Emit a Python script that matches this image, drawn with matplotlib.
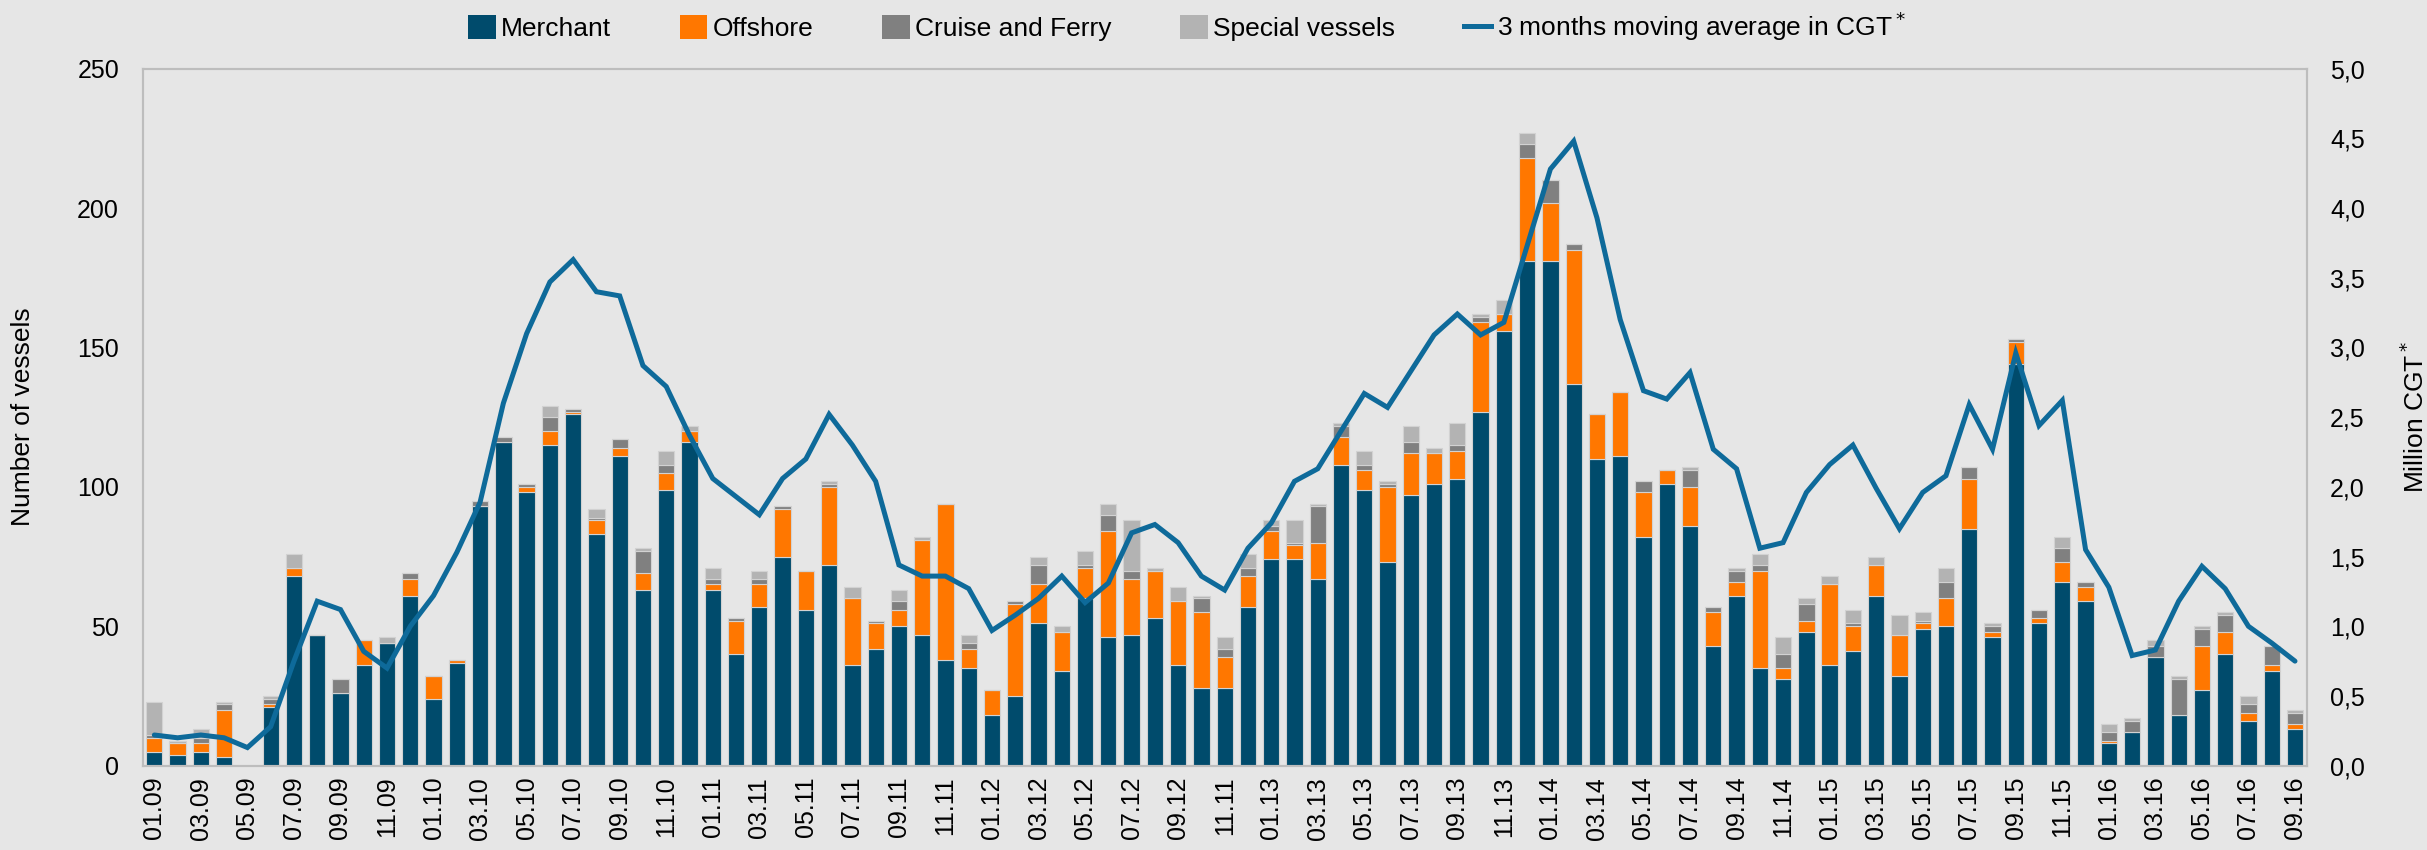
import numpy as np
import matplotlib.pyplot as plt
from matplotlib.lines import Line2D
from matplotlib.patches import Patch
from matplotlib.ticker import FuncFormatter

plt.rcParams['font.family'] = ['Liberation Sans', 'DejaVu Sans']

# months 01.09 ... 09.16, one value per month
years = ['09', '10', '11', '12', '13', '14', '15', '16']

merchant = [
    5, 4, 5, 3, 0, 21, 68, 47, 26, 36, 44, 61,              # 2009
    24, 37, 93, 116, 98, 115, 126, 83, 111, 63, 99, 116,    # 2010
    63, 40, 57, 75, 56, 72, 36, 42, 50, 47, 38, 35,         # 2011
    18, 25, 51, 34, 60, 46, 47, 53, 36, 28, 28, 57,         # 2012
    74, 74, 67, 108, 99, 73, 97, 101, 103, 127, 156, 181,   # 2013
    181, 137, 110, 111, 82, 101, 86, 43, 61, 35, 31, 48,    # 2014
    36, 41, 61, 32, 49, 50, 85, 46, 144, 51, 66, 59,        # 2015
    8, 12, 39, 18, 27, 40, 16, 34, 13,                      # 2016
]
offshore = [
    5, 4, 3, 17, 0, 1, 3, 0, 0, 9, 0, 6,
    8, 1, 0, 0, 2, 5, 1, 5, 3, 6, 6, 4,
    2, 12, 8, 17, 14, 28, 24, 9, 6, 34, 56, 7,
    9, 33, 14, 14, 11, 38, 20, 17, 23, 27, 11, 11,
    10, 5, 13, 10, 7, 27, 15, 11, 10, 32, 6, 37,
    21, 48, 16, 23, 16, 5, 14, 12, 5, 35, 4, 4,
    29, 9, 11, 15, 2, 10, 18, 2, 8, 2, 7, 5,
    1, 0, 0, 0, 16, 8, 3, 2, 2,
]
cruise_ferry = [
    1, 0, 2, 2, 0, 2, 0, 0, 5, 0, 0, 2,
    0, 0, 2, 2, 1, 5, 1, 1, 3, 8, 3, 0,
    2, 1, 2, 1, 0, 1, 0, 1, 3, 0, 0, 2,
    0, 1, 7, 0, 1, 6, 3, 0, 0, 5, 3, 3,
    2, 1, 13, 4, 2, 1, 4, 0, 2, 2, 0, 5,
    8, 2, 0, 0, 4, 0, 6, 2, 4, 2, 5, 6,
    0, 1, 0, 0, 1, 6, 4, 2, 1, 3, 5, 2,
    3, 4, 4, 13, 6, 6, 3, 7, 4,
]
special = [
    12, 1, 3, 1, 0, 1, 5, 0, 0, 0, 2, 0,
    0, 0, 0, 0, 0, 4, 0, 3, 0, 1, 5, 2,
    4, 0, 3, 0, 0, 1, 4, 0, 4, 1, 0, 3,
    0, 0, 3, 2, 5, 4, 18, 1, 5, 1, 4, 5,
    2, 8, 1, 1, 5, 1, 6, 2, 8, 1, 5, 4,
    0, 0, 0, 0, 0, 0, 1, 0, 1, 4, 6, 2,
    3, 5, 3, 7, 3, 5, 0, 1, 0, 0, 4, 0,
    3, 1, 2, 1, 1, 1, 3, 0, 1,
]
# 3 months moving average, million CGT
cgt_avg = [
    0.22, 0.20, 0.22, 0.20, 0.13, 0.28, 0.75, 1.18, 1.12, 0.82, 0.70, 1.00,
    1.22, 1.53, 1.89, 2.60, 3.10, 3.47, 3.63, 3.40, 3.37, 2.87, 2.72, 2.37,
    2.06, 1.93, 1.80, 2.06, 2.20, 2.52, 2.30, 2.04, 1.44, 1.36, 1.36, 1.27,
    0.97, 1.08, 1.20, 1.36, 1.17, 1.31, 1.67, 1.73, 1.60, 1.36, 1.26, 1.56,
    1.74, 2.04, 2.13, 2.40, 2.67, 2.57, 2.83, 3.09, 3.24, 3.09, 3.18, 3.73,
    4.28, 4.48, 3.93, 3.20, 2.69, 2.63, 2.82, 2.27, 2.13, 1.56, 1.60, 1.96,
    2.16, 2.30, 1.99, 1.70, 1.96, 2.08, 2.59, 2.27, 2.96, 2.44, 2.62, 1.55,
    1.28, 0.79, 0.83, 1.18, 1.43, 1.27, 1.00, 0.88, 0.75,
]

month_labels = [f'{m:02d}.{y}' for y in years for m in range(1, 13)][:len(merchant)]
month_labels[46] = '11.11'  # label as printed in the source chart

c_merchant = '#004B6C'
c_offshore = '#FF7700'
c_cruise = '#808080'
c_special = '#B3B3B3'
c_line = '#0E6A9A'
bg = '#E6E6E6'
spine_c = '#BDBDBD'

x = np.arange(len(merchant))
m = np.array(merchant)
o = np.array(offshore)
c = np.array(cruise_ferry)
s = np.array(special)

fig = plt.figure(figsize=(24.27, 8.5), dpi=100, facecolor=bg)
ax = fig.add_axes([0.0588, 0.0992, 0.8916, 0.82])
ax.set_facecolor(bg)

bar_kw = dict(width=0.7, edgecolor='#D2D2D2', linewidth=0.8)
ax.bar(x, m, color=c_merchant, **bar_kw)
ax.bar(x, o, bottom=m, color=c_offshore, **bar_kw)
ax.bar(x, c, bottom=m + o, color=c_cruise, **bar_kw)
ax.bar(x, s, bottom=m + o + c, color=c_special, **bar_kw)

ax.set_xlim(-0.5, len(merchant) - 0.5)
ax.set_ylim(0, 250)
ax.set_yticks(range(0, 251, 50))
ax.set_xticks(x[::2])
ax.set_xticklabels(month_labels[::2], rotation=90, fontsize=18)
ax.tick_params(axis='x', length=0, pad=8)
ax.tick_params(axis='y', length=0, pad=17, labelsize=18)
ax.set_ylabel('Number of vessels', fontsize=19)
ax.yaxis.set_label_coords(-0.050, 0.5)

ax2 = ax.twinx()
ax2.plot(x, cgt_avg, color=c_line, linewidth=3.6, solid_capstyle='round',
         solid_joinstyle='miter')
ax2.set_ylim(0, 5)
ax2.set_yticks(np.arange(0, 5.01, 0.5))
ax2.yaxis.set_major_formatter(FuncFormatter(lambda v, p: f'{v:.1f}'.replace('.', ',')))
ax2.tick_params(axis='y', length=0, pad=17, labelsize=18)
ax2.set_ylabel('Million CGT$^*$', fontsize=19)
ax2.yaxis.set_label_coords(1.0435, 0.5)

for a in (ax, ax2):
    for sp in a.spines.values():
        sp.set_color(spine_c)
        sp.set_linewidth(1.5)

handles = [
    Patch(facecolor=c_merchant, label='Merchant'),
    Patch(facecolor=c_offshore, label='Offshore'),
    Patch(facecolor=c_cruise, label='Cruise and Ferry'),
    Patch(facecolor=c_special, label='Special vessels'),
    Line2D([0], [0], color=c_line, linewidth=3.6, label='3 months moving average in CGT$^*$'),
]
fig.legend(handles=handles, loc='center', bbox_to_anchor=(0.489, 0.969), ncol=5,
           frameon=False, fontsize=19, handlelength=1.05, handleheight=1.0,
           handletextpad=0.2, columnspacing=2.6)

fig.savefig('out.png', dpi=100, facecolor=bg)
